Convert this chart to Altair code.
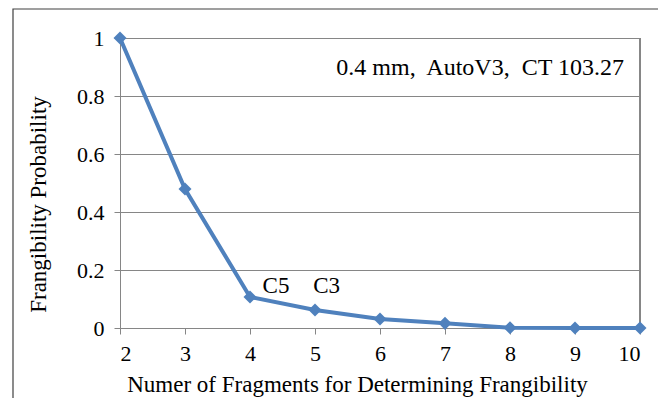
import altair as alt
import pandas as pd

fragments = [2, 3, 4, 5, 6, 7, 8, 9, 10]
probability = [1.0, 0.479, 0.107, 0.062, 0.031, 0.016, 0.001, 0.0, 0.0]

label_text = ["C5", "C3"]
label_x = [4.4, 5.18]
label_y = [0.145, 0.145]

note_text = ["0.4 mm,\u00a0 AutoV3,\u00a0 CT 103.27"]
note_x = [7.54]
note_y = [0.895]

df = pd.DataFrame({"n": fragments, "p": probability})
labels = pd.DataFrame({"t": label_text, "x": label_x, "y": label_y})
note = pd.DataFrame({"t": note_text, "x": note_x, "y": note_y})

FONT = "Liberation Serif"
BLUE = "#4F81BD"

xscale = alt.Scale(domain=[2, 10], nice=False, zero=False)
yscale = alt.Scale(domain=[0, 1], nice=False)

base = alt.Chart(df)

line = base.mark_line(color=BLUE, strokeWidth=4).encode(
    x=alt.X("n:Q", scale=xscale,
            axis=alt.Axis(title="Numer of Fragments for Determining Frangibility",
                          values=fragments, tickCount=9, grid=False, format="d",
                          tickSize=6, labelPadding=9, titlePadding=9, titleX=237,
                          labelFontSize=22, titleFontSize=23)),
    y=alt.Y("p:Q", scale=yscale,
            axis=alt.Axis(title="Frangibility Probability", values=[0, 0.2, 0.4, 0.6, 0.8, 1],
                          format="~g", grid=True, tickSize=6, labelPadding=10, titlePadding=26,
                          titleY=166, labelFontSize=22, titleFontSize=23)),
)
points = base.mark_point(shape="diamond", filled=True, color=BLUE, size=170, opacity=1).encode(
    x=alt.X("n:Q", scale=xscale), y=alt.Y("p:Q", scale=yscale)
)

lbl = alt.Chart(labels).mark_text(font=FONT, fontSize=23, color="black", align="center").encode(
    x=alt.X("x:Q", scale=xscale), y=alt.Y("y:Q", scale=yscale), text="t:N"
)
nt = alt.Chart(note).mark_text(font=FONT, fontSize=24, color="black", align="center").encode(
    x=alt.X("x:Q", scale=xscale), y=alt.Y("y:Q", scale=yscale), text="t:N"
)

right_border = alt.Chart(df).mark_rule(color="#868686", strokeWidth=1).encode(
    x=alt.value(520), y=alt.value(0), y2=alt.value(290)
)

frame = alt.Chart(df.head(1)).mark_rect(filled=False, stroke="#404040", strokeWidth=1.2, clip=False).encode(
    x=alt.value(-107), x2=alt.value(541), y=alt.value(-29), y2=alt.value(400)
)

chart = alt.layer(frame, right_border, line, points, lbl, nt).properties(
    width=520, height=290,
    autosize=alt.AutoSizeParams(type="none"),
    padding={"left": 112, "top": 30, "right": 18, "bottom": 70},
).configure(font=FONT).configure_view(stroke=None).configure_axis(
    labelFont=FONT, titleFont=FONT,
    labelColor="black", titleColor="black", titleFontWeight="normal",
    domainColor="#868686", tickColor="#868686", gridColor="#868686", gridWidth=1,
)

chart.save("out.html", embed_options={"renderer": "svg", "actions": False})
